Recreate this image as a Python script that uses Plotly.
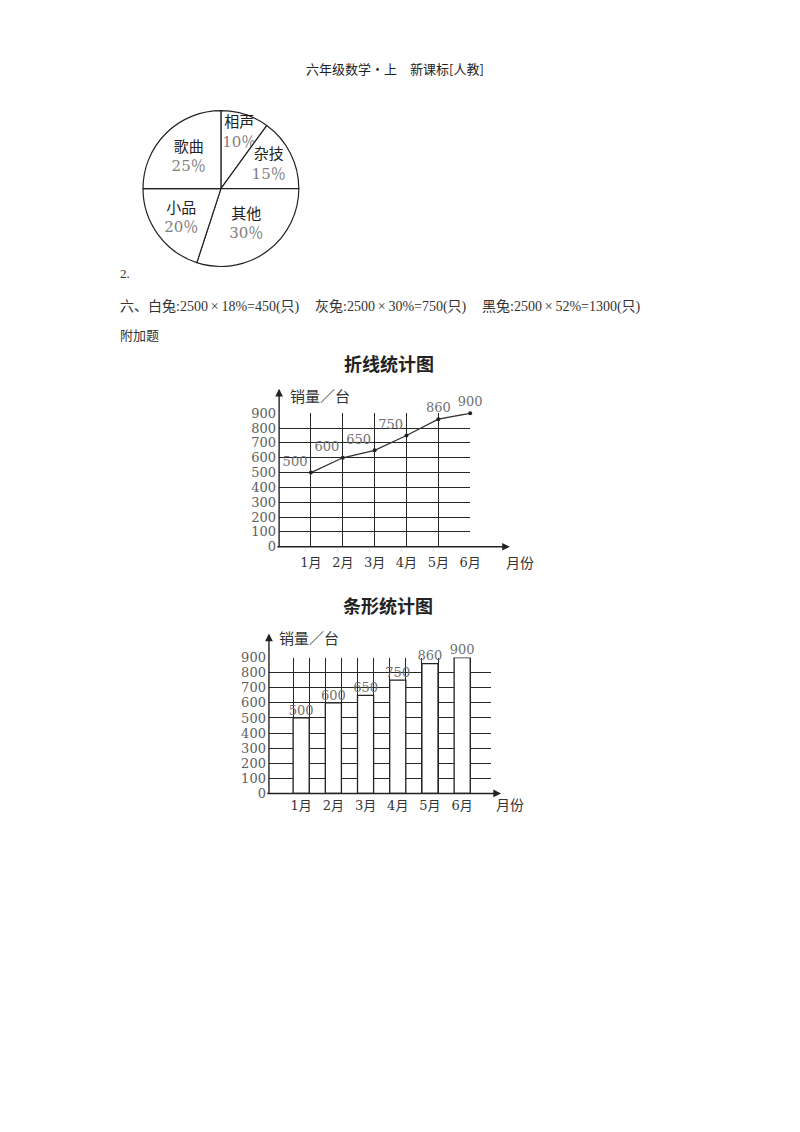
import plotly.graph_objects as go

# ---------------- data ----------------
pie_labels = ["相声", "杂技", "其他", "小品", "歌曲"]
pie_values = [10, 15, 30, 20, 25]

months = ["1月", "2月", "3月", "4月", "5月", "6月"]
sales = [500, 600, 650, 750, 860, 900]
y_ticks = [0, 100, 200, 300, 400, 500, 600, 700, 800, 900]

header_text = "六年级数学·上　新课标[人教]"
item2_text = "2."
answer_groups = ["六、白兔:2500\u2009×\u200918%=450(只)",
                 "灰兔:2500\u2009×\u200930%=750(只)",
                 "黑兔:2500\u2009×\u200952%=1300(只)"]
extra_text = "附加题"
line_title = "折线统计图"
bar_title = "条形统计图"
y_name = "销量／台"
x_name = "月份"

# ---------------- layout helpers ----------------
W, H = 800, 1132


def px(x):
    return x / W


def py(y):
    return 1 - y / H


positions = list(range(1, len(months) + 1))
BAR_W = 0.5
bar_edges = [p + s * BAR_W / 2 for p in positions for s in (-1, 1)]
line_label_pos = ["top left", "top left", "top left", "top left", "top center", "top center"]

SERIF = "DejaVu Serif, Noto Sans CJK SC"
TEXT_SERIF = "Liberation Serif, Noto Sans CJK SC"
SANS = "Noto Sans CJK SC"
GRID = "#262626"
GRID_W = 1.2

# line chart plot area (pixels)
L_X0, L_X1, L_Y0, L_Y1 = 283, 476.7, 547, 411.7
# bar chart plot area (pixels)
B_X0, B_X1, B_Y0, B_Y1 = 272.7, 498, 797, 659.3

fig = go.Figure()

# ---------------- pie ----------------
fig.add_trace(go.Pie(
    labels=pie_labels, values=pie_values, sort=False, direction="clockwise", rotation=0,
    domain=dict(x=[px(145), px(303)], y=[py(263), py(105)]),
    marker=dict(colors=["white"] * len(pie_values), line=dict(color="#222", width=1.2)),
    texttemplate="%{label}<br><span style='color:#808080'>%{value}％</span>",
    textposition="inside", insidetextorientation="horizontal",
    textfont=dict(family=SERIF, size=15, color="#222"),
    hoverinfo="skip", showlegend=False,
))

# ---------------- line chart ----------------
fig.add_trace(go.Scatter(
    x=positions, y=sales, mode="lines+markers+text",
    text=[str(v) for v in sales], textposition=line_label_pos,
    textfont=dict(family=SERIF, size=13, color="#707070"),
    line=dict(color="#333", width=1.3), marker=dict(size=4, color="#222"),
    cliponaxis=False, xaxis="x", yaxis="y", showlegend=False, hoverinfo="skip",
))

# ---------------- bar chart ----------------
fig.add_trace(go.Bar(
    x=positions, y=sales, width=BAR_W,
    marker=dict(color="white", line=dict(color="#222", width=1.3)),
    xaxis="x2", yaxis="y2", showlegend=False, hoverinfo="skip",
))
fig.add_trace(go.Scatter(
    x=positions, y=sales, mode="text",
    text=[str(v) for v in sales], textposition="top center",
    textfont=dict(family=SERIF, size=13, color="#707070"),
    cliponaxis=False, xaxis="x2", yaxis="y2", showlegend=False, hoverinfo="skip",
))

tickfont_x = dict(family=SERIF, size=13, color="#333")
tickfont_y = dict(family=SERIF, size=13, color="#606060")

fig.update_layout(
    width=W, height=H, margin=dict(l=0, r=0, t=0, b=0),
    paper_bgcolor="white", plot_bgcolor="white", showlegend=False,
    uniformtext=dict(minsize=15, mode="show"),
    xaxis=dict(domain=[px(L_X0), px(L_X1)], range=[0, len(months)], anchor="y",
               tickmode="array", tickvals=positions, ticktext=months, tickfont=tickfont_x,
               showgrid=True, gridcolor=GRID, gridwidth=GRID_W, zeroline=False, showline=False,
               ticks="", ticklabelstandoff=6, fixedrange=True),
    yaxis=dict(domain=[py(L_Y0), py(L_Y1)], range=[0, 900], anchor="x",
               tickmode="array", tickvals=y_ticks, tickfont=tickfont_y,
               showgrid=True, gridcolor=GRID, gridwidth=GRID_W, zeroline=False, showline=False,
               ticks="", ticklabelstandoff=2, fixedrange=True),
    xaxis2=dict(domain=[px(B_X0), px(B_X1)], range=[0, 6.9], anchor="y2",
                tickmode="array", tickvals=positions, ticktext=months, tickfont=tickfont_x,
                showgrid=False, zeroline=False, showline=False, ticks="", ticklabelstandoff=3,
                minor=dict(tickmode="array", tickvals=bar_edges, showgrid=True,
                           gridcolor=GRID, gridwidth=GRID_W, ticks=""),
                fixedrange=True),
    yaxis2=dict(domain=[py(B_Y0), py(B_Y1)], range=[0, 900], anchor="x2",
                tickmode="array", tickvals=y_ticks, tickfont=tickfont_y,
                showgrid=True, gridcolor=GRID, gridwidth=GRID_W, zeroline=False, showline=False,
                ticks="", ticklabelstandoff=2, fixedrange=True),
)


def text_at(x, y, s, size, family, color="#222", xanchor="center", bold=False):
    fig.add_annotation(x=px(x), y=py(y), xref="paper", yref="paper", text=(f"<b>{s}</b>" if bold else s),
                       showarrow=False, xanchor=xanchor, yanchor="middle",
                       font=dict(family=family, size=size, color=color))


def arrow(x0, y0, x1, y1):
    fig.add_annotation(x=px(x1), y=py(y1), xref="paper", yref="paper",
                       ax=x0 - x1, ay=y0 - y1, axref="pixel", ayref="pixel",
                       text="", showarrow=True, arrowhead=2, arrowsize=1.1,
                       arrowwidth=1.4, arrowcolor="#222")


# page texts
text_at(400, 62, header_text, 13, SANS, "#222")
text_at(120, 270, item2_text, 13, TEXT_SERIF, "#333", xanchor="left")
for gx, g in zip([120, 317, 487], answer_groups):
    text_at(gx, 304, g, 14, TEXT_SERIF, "#333", xanchor="left")
text_at(120, 333, extra_text, 13, TEXT_SERIF, "#333", xanchor="left")

# line chart decorations
text_at(394.5, 361, line_title, 18, SANS, "#222", bold=True)
text_at(324.5, 394, y_name, 15, SANS, "#333")
text_at(527.5, 562, x_name, 14, SANS, "#333")
arrow(L_X0, L_Y0, 517, L_Y0)
arrow(L_X0, L_Y0, L_X0, 387)

# bar chart decorations
text_at(393.5, 606, bar_title, 18, SANS, "#222", bold=True)
text_at(313.5, 639, y_name, 15, SANS, "#333")
text_at(517, 808, x_name, 14, SANS, "#333")
arrow(B_X0, B_Y0, 508, B_Y0)
arrow(B_X0, B_Y0, B_X0, 635)

fig.write_html("out.html", config={"displayModeBar": False},
               post_script="document.body.style.margin='0px';")
